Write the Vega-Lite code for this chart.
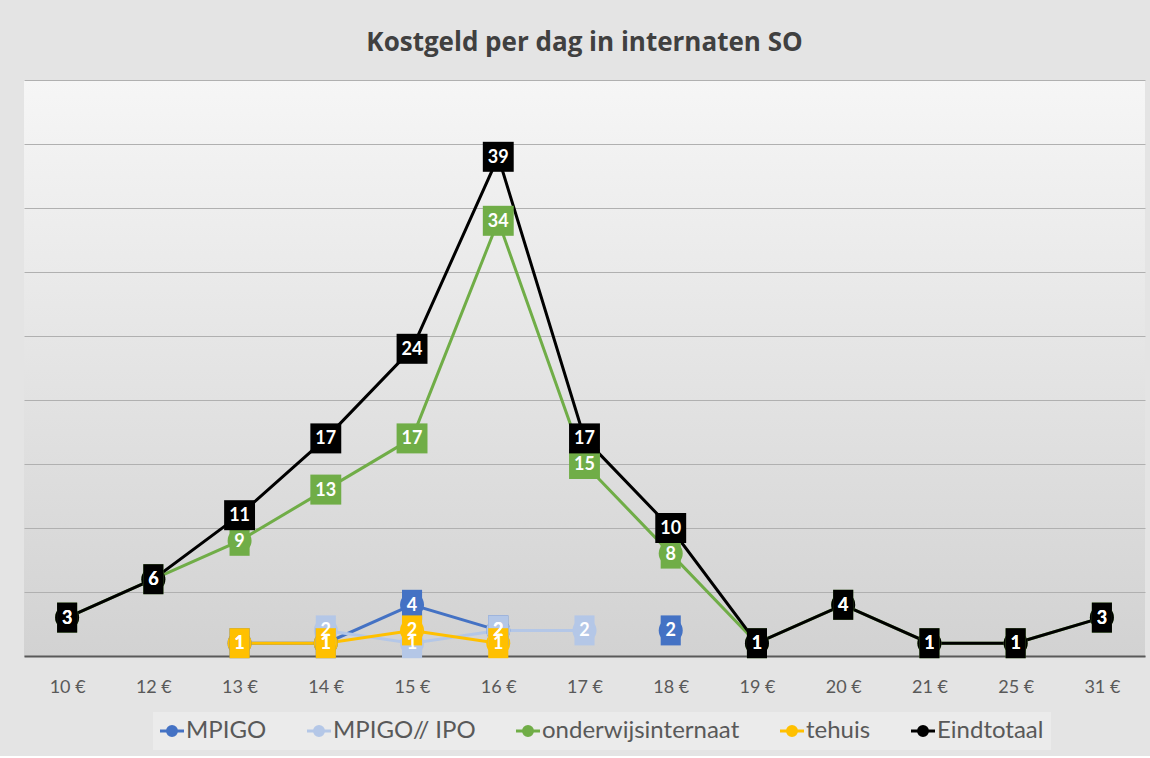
{
  "$schema": "https://vega.github.io/schema/vega-lite/v6.json",
  "width": 1121,
  "height": 576,
  "padding": {"left": 24, "top": 30, "right": 5, "bottom": 6},
  "background": "#e4e4e4",
  "title": {"text": "Kostgeld per dag in internaten SO", "fontSize": 26, "font": "Open Sans", "fontWeight": "bold", "color": "#404040", "offset": 24, "anchor": "middle"},
  "config": {
    "view": {"stroke": null, "fill": {"gradient": "linear", "x1": 0, "y1": 0, "x2": 0, "y2": 1, "stops": [{"offset": 0, "color": "#f6f6f6"}, {"offset": 1, "color": "#d2d2d2"}]}},
    "legend": {"orient": "none", "legendX": 129, "legendY": 632, "direction": "horizontal", "title": null, "labelFontSize": 24, "labelFont": "Lato", "labelColor": "#595959", "labelLimit": 0, "fillColor": "#ebebeb", "padding": 7, "columnPadding": 34, "labelOffset": 2}
  },
  "data": {"values": [
    {"prijs": "13 €", "reeks": "MPIGO", "v": 1},
    {"prijs": "14 €", "reeks": "MPIGO", "v": 1},
    {"prijs": "15 €", "reeks": "MPIGO", "v": 4},
    {"prijs": "16 €", "reeks": "MPIGO", "v": 2},
    {"prijs": "17 €", "reeks": "MPIGO", "v": null},
    {"prijs": "18 €", "reeks": "MPIGO", "v": 2},
    {"prijs": "14 €", "reeks": "MPIGO// IPO", "v": 2},
    {"prijs": "15 €", "reeks": "MPIGO// IPO", "v": 1},
    {"prijs": "16 €", "reeks": "MPIGO// IPO", "v": 2},
    {"prijs": "17 €", "reeks": "MPIGO// IPO", "v": 2},
    {"prijs": "10 €", "reeks": "onderwijsinternaat", "v": 3},
    {"prijs": "12 €", "reeks": "onderwijsinternaat", "v": 6},
    {"prijs": "13 €", "reeks": "onderwijsinternaat", "v": 9},
    {"prijs": "14 €", "reeks": "onderwijsinternaat", "v": 13},
    {"prijs": "15 €", "reeks": "onderwijsinternaat", "v": 17},
    {"prijs": "16 €", "reeks": "onderwijsinternaat", "v": 34},
    {"prijs": "17 €", "reeks": "onderwijsinternaat", "v": 15},
    {"prijs": "18 €", "reeks": "onderwijsinternaat", "v": 8},
    {"prijs": "19 €", "reeks": "onderwijsinternaat", "v": 1},
    {"prijs": "20 €", "reeks": "onderwijsinternaat", "v": 4},
    {"prijs": "21 €", "reeks": "onderwijsinternaat", "v": 1},
    {"prijs": "25 €", "reeks": "onderwijsinternaat", "v": 1},
    {"prijs": "31 €", "reeks": "onderwijsinternaat", "v": 3},
    {"prijs": "13 €", "reeks": "tehuis", "v": 1},
    {"prijs": "14 €", "reeks": "tehuis", "v": 1},
    {"prijs": "15 €", "reeks": "tehuis", "v": 2},
    {"prijs": "16 €", "reeks": "tehuis", "v": 1},
    {"prijs": "10 €", "reeks": "Eindtotaal", "v": 3},
    {"prijs": "12 €", "reeks": "Eindtotaal", "v": 6},
    {"prijs": "13 €", "reeks": "Eindtotaal", "v": 11},
    {"prijs": "14 €", "reeks": "Eindtotaal", "v": 17},
    {"prijs": "15 €", "reeks": "Eindtotaal", "v": 24},
    {"prijs": "16 €", "reeks": "Eindtotaal", "v": 39},
    {"prijs": "17 €", "reeks": "Eindtotaal", "v": 17},
    {"prijs": "18 €", "reeks": "Eindtotaal", "v": 10},
    {"prijs": "19 €", "reeks": "Eindtotaal", "v": 1},
    {"prijs": "20 €", "reeks": "Eindtotaal", "v": 4},
    {"prijs": "21 €", "reeks": "Eindtotaal", "v": 1},
    {"prijs": "25 €", "reeks": "Eindtotaal", "v": 1},
    {"prijs": "31 €", "reeks": "Eindtotaal", "v": 3}
  ]},
  "encoding": {
    "x": {"field": "prijs", "type": "ordinal",
      "sort": ["10 €", "12 €", "13 €", "14 €", "15 €", "16 €", "17 €", "18 €", "19 €", "20 €", "21 €", "25 €", "31 €"],
      "axis": {"title": null, "labelAngle": 0, "ticks": false, "grid": false, "domainColor": "#595959", "domainWidth": 2, "labelFont": "Lato", "labelFontSize": 18, "labelColor": "#595959", "labelPadding": 22}},
    "y": {"field": "v", "type": "quantitative", "scale": {"domain": [0, 45]},
      "axis": {"title": null, "values": [0, 5, 10, 15, 20, 25, 30, 35, 40, 45], "labels": false, "ticks": false, "domain": false, "grid": true, "gridColor": "#b0b0b0", "gridWidth": 1, "minExtent": 0, "maxExtent": 0}},
    "color": {"field": "reeks", "type": "nominal",
      "sort": ["MPIGO", "MPIGO// IPO", "onderwijsinternaat", "tehuis", "Eindtotaal"],
      "scale": {"domain": ["MPIGO", "MPIGO// IPO", "onderwijsinternaat", "tehuis", "Eindtotaal"], "range": ["#4472C4", "#B4C7E7", "#70AD47", "#FFC000", "#000000"]},
      "legend": {"symbolType": "M-2,0H-0.75A0.75,0.75 0 1 1 0.75,0H2M0.75,0A0.75,0.75 0 1 1 -0.75,0", "symbolSize": 144, "symbolStrokeWidth": 3,
        "encode": {"symbols": {"update": {"fill": {"scale": "color", "field": "value"}, "stroke": {"scale": "color", "field": "value"}}}}}}
  },
  "layer": [
    {"mark": {"type": "line", "strokeWidth": 3, "invalid": "break-paths-show-domains"}},
    {"mark": {"type": "point", "shape": "circle", "filled": true, "size": 576, "opacity": 1}},
    {"mark": {"type": "point", "filled": true, "size": 900, "opacity": 1},
      "encoding": {"shape": {"condition": {"test": "datum.v >= 10", "value": "M-1.03,-1H1.03V1H-1.03Z"}, "value": "M-0.67,-1H0.67V1H-0.67Z"}}},
    {"mark": {"type": "text", "font": "Lato", "fontWeight": "bold", "fontSize": 18, "baseline": "middle", "align": "center", "dy": 1},
      "encoding": {"text": {"field": "v", "type": "quantitative"}, "color": {"value": "white"}}}
  ]
}
